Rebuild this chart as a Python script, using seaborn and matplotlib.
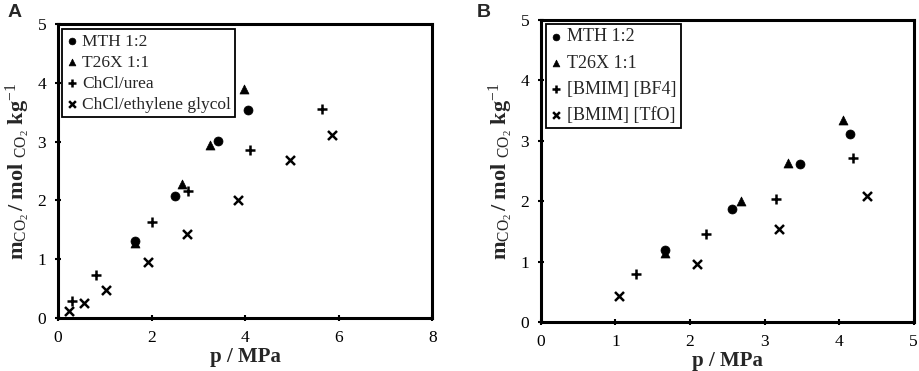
import pandas as pd
import matplotlib
matplotlib.use("Agg")
import matplotlib.pyplot as plt
import seaborn as sns

# panel A: DES absorbents
a_mth_p = [1.65, 2.51, 3.41, 4.07]
a_mth_m = [1.31, 2.07, 3.01, 3.54]
a_t26_p = [1.65, 2.64, 3.25, 3.98]
a_t26_m = [1.27, 2.28, 2.95, 3.89]
a_urea_p = [0.30, 0.81, 2.00, 2.78, 4.10, 5.64]
a_urea_m = [0.28, 0.73, 1.64, 2.16, 2.85, 3.55]
a_eg_p = [0.24, 0.56, 1.03, 1.92, 2.75, 3.85, 4.96, 5.85]
a_eg_m = [0.11, 0.26, 0.48, 0.95, 1.43, 2.01, 2.68, 3.11]

# panel B: ionic liquids
b_mth_p = [1.67, 2.56, 3.47, 4.15]
b_mth_m = [1.20, 1.87, 2.62, 3.12]
b_t26_p = [1.67, 2.68, 3.31, 4.05]
b_t26_m = [1.15, 2.01, 2.63, 3.34]
b_bf4_p = [1.28, 2.21, 3.15, 4.19]
b_bf4_m = [0.80, 1.45, 2.03, 2.71]
b_tfo_p = [1.05, 2.10, 3.19, 4.38]
b_tfo_m = [0.43, 0.96, 1.54, 2.09]

panel_a = [("MTH 1:2", a_mth_p, a_mth_m, "o"),
           ("T26X 1:1", a_t26_p, a_t26_m, "^"),
           ("ChCl/urea", a_urea_p, a_urea_m, "+"),
           ("ChCl/ethylene glycol", a_eg_p, a_eg_m, "x")]
panel_b = [("MTH 1:2", b_mth_p, b_mth_m, "o"),
           ("T26X 1:1", b_t26_p, b_t26_m, "^"),
           ("[BMIM] [BF4]", b_bf4_p, b_bf4_m, "+"),
           ("[BMIM] [TfO]", b_tfo_p, b_tfo_m, "x")]

sns.set_style("white")
plt.rcParams['font.family'] = ['Liberation Serif', 'DejaVu Serif']
plt.rcParams['mathtext.fontset'] = 'custom'
plt.rcParams['mathtext.rm'] = 'Liberation Serif'
plt.rcParams['mathtext.bf'] = 'Liberation Serif:bold'
plt.rcParams['mathtext.it'] = 'Liberation Serif:italic'

ylab = (r'$\mathbf{m}_{\mathrm{CO_2}}\,\mathbf{/\ mol}\ _{\mathrm{CO_2}}\ '
        r'\mathbf{kg}^{-1}$')

fig = plt.figure(figsize=(9.2, 3.71), dpi=100)
ax_a = fig.add_axes([0.063, 0.143, 0.407, 0.792])
ax_b = fig.add_axes([0.588, 0.132, 0.405, 0.814])


def draw(ax, series, xmax, leg_anchor, leg_size, leg_space):
    for name, p, m, mk in series:
        df = pd.DataFrame({"p": p, "m": m})
        if mk == "+":
            sns.scatterplot(data=df, x="p", y="m", ax=ax, marker=mk, color="black",
                            s=60, linewidth=1.8, label=name)
        elif mk == "x":
            sns.scatterplot(data=df, x="p", y="m", ax=ax, marker=mk, color="black",
                            s=42, linewidth=1.8, label=name)
        else:
            sns.scatterplot(data=df, x="p", y="m", ax=ax, marker=mk, color="black",
                            s=42, edgecolor="black", linewidth=0.5, label=name)
    ax.set_xlim(0, xmax)
    ax.set_ylim(0, 5)
    ax.set_yticks(range(0, 6))
    ax.set_xlabel("p / MPa", fontsize=15, fontweight="bold", labelpad=1)
    ax.set_ylabel(ylab, fontsize=16, labelpad=4)
    for s in ax.spines.values():
        s.set_visible(True)
        s.set_linewidth(2.2)
        s.set_color("black")
    ax.tick_params(direction="inout", length=5, width=1.5, labelsize=12.5,
                   colors="black", pad=6, bottom=True, left=True)
    leg = ax.legend(loc="upper left", bbox_to_anchor=leg_anchor, fontsize=leg_size,
                    frameon=True, fancybox=False, framealpha=1, borderpad=0.25,
                    handletextpad=0.3, handlelength=0.6, labelspacing=leg_space,
                    borderaxespad=0, markerscale=0.75)
    leg.get_frame().set_edgecolor("black")
    leg.get_frame().set_linewidth(1.3)


draw(ax_a, panel_a, 8, (0.011, 0.983), 12.5, 0.28)
ax_a.set_xticks(range(0, 9, 2))
draw(ax_b, panel_b, 5, (0.013, 0.987), 13, 0.5)
ax_b.set_xticks(range(0, 6))

fig.text(0.008, 0.99, "A", fontsize=14, fontweight="bold", va="top",
         family="Liberation Sans")
fig.text(0.518, 0.99, "B", fontsize=14, fontweight="bold", va="top",
         family="Liberation Sans")

fig.savefig("out.png", dpi=100)
